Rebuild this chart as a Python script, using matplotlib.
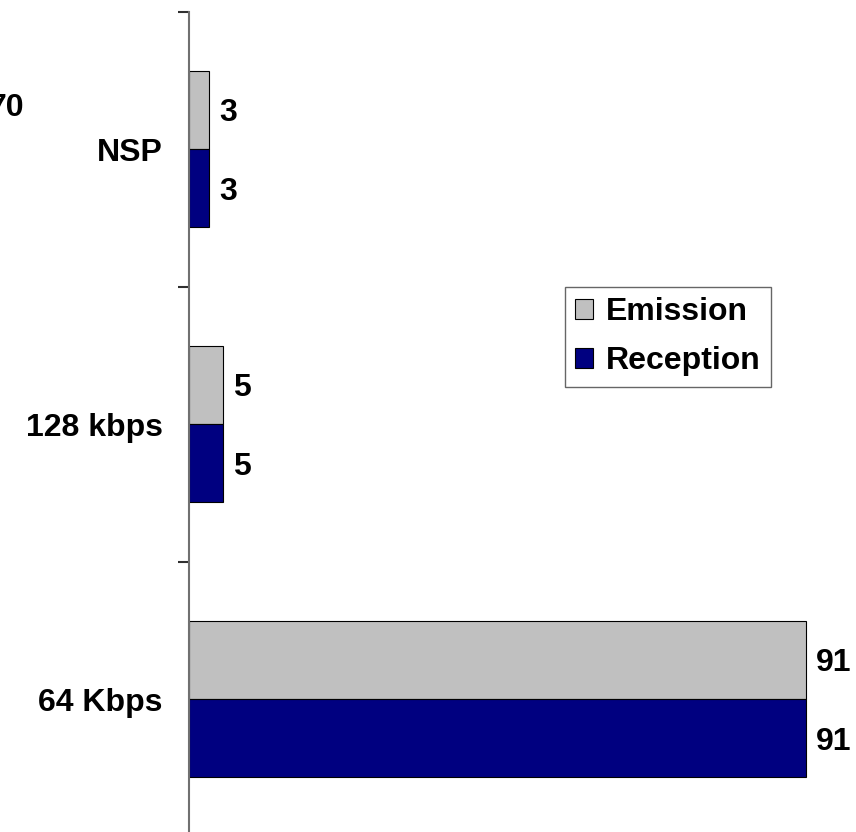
import numpy as np
import matplotlib
matplotlib.use("Agg")
import matplotlib.pyplot as plt

# Débit de connexion, du haut vers le bas
categories = ["NSP", "128 kbps", "64 Kbps"]
emission = [3, 5, 91]
reception = [3, 5, 91]

plt.rcParams['font.family'] = ['Liberation Sans', 'DejaVu Sans']
plt.rcParams['font.weight'] = 'bold'
FS = 23

W, H = 856, 832
fig = plt.figure(figsize=(W / 100, H / 100), dpi=100)

# axe placé en pixels : axe vertical à x=189, catégories de 275 px
left, top = 189, 11.5
cat_px = 275
ax_h = cat_px * len(categories)
ax = fig.add_axes([left / W, (H - top - ax_h) / H, (W - left) / W, ax_h / H])

y = np.arange(len(categories))
h = 0.285
ax.barh(y - h / 2, emission, height=h, color="#C0C0C0", edgecolor="black",
        linewidth=0.8, label="Emission")
ax.barh(y + h / 2, reception, height=h, color="#000080", edgecolor="black",
        linewidth=0.8, label="Reception")

# étiquettes de valeurs à droite des barres
for i in range(len(categories)):
    ax.text(emission[i] + 1.5, y[i] - h / 2, str(emission[i]),
            va="center_baseline", ha="left", fontsize=FS, fontweight="bold")
    ax.text(reception[i] + 1.5, y[i] + h / 2, str(reception[i]),
            va="center_baseline", ha="left", fontsize=FS, fontweight="bold")

ax.set_xlim(0, (W - left) / 6.78)
ax.set_ylim(len(categories) - 0.5, -0.5)

for s in ["top", "right", "bottom"]:
    ax.spines[s].set_visible(False)
ax.spines["left"].set_color("#707070")
ax.spines["left"].set_linewidth(1.5)
ax.set_xticks([])

# graduations entre les catégories, libellés au centre
ax.set_yticks(np.arange(len(categories) + 1) - 0.5)
ax.set_yticklabels([])
ax.tick_params(axis="y", which="major", length=8, width=1.5, color="#303030")
ax.set_yticks(y, minor=True)
ax.set_yticklabels(categories, minor=True, fontsize=FS, fontweight="bold")
ax.tick_params(axis="y", which="minor", length=0, pad=19)

leg = ax.legend(loc="upper left", bbox_to_anchor=(565 / W, 1 - 287 / H),
                bbox_transform=fig.transFigure, borderaxespad=0,
                fancybox=False, frameon=True, edgecolor="#404040",
                prop={"size": FS, "weight": "bold"}, handlelength=0.55,
                handleheight=0.55, handletextpad=0.4, borderpad=0.32,
                labelspacing=0.6)
leg.get_frame().set_linewidth(1.0)

# texte tronqué en haut à gauche
fig.text(24 / W, 1 - 108 / H, "70", ha="right", va="center", fontsize=FS,
         fontweight="bold")

fig.savefig("out.png", dpi=100)
